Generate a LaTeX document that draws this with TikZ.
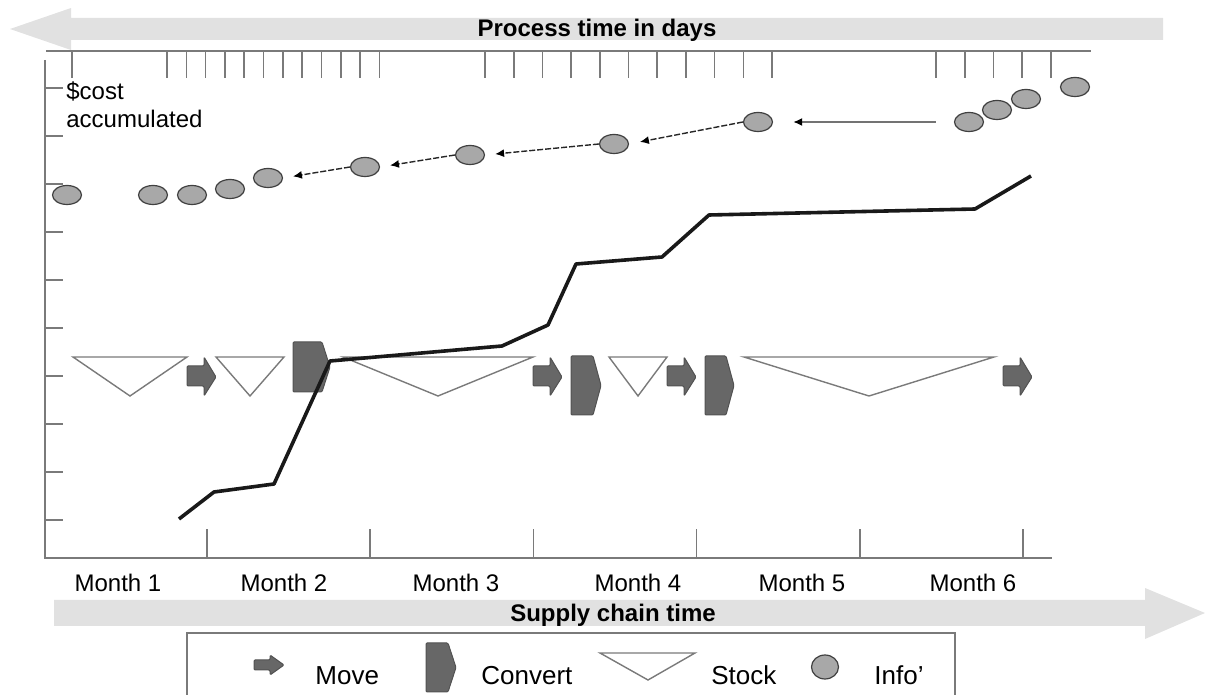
\documentclass[tikz,border=0pt]{standalone}
\usepackage{fontspec}
\setmainfont{Liberation Sans}
\usepackage{xcolor}
\usetikzlibrary{shapes.geometric,arrows.meta}

\definecolor{bandgray}{HTML}{E1E1E1}
\definecolor{axisgray}{HTML}{7A7A7A}
\definecolor{blockgray}{HTML}{676767}
\definecolor{infogray}{HTML}{A8A8A8}

\begin{document}
\begin{tikzpicture}[x=.5pt, y=-.5pt,
    lbl/.style={inner sep=0, font=\fontsize{12}{14}\selectfont},
    title/.style={inner sep=0, font=\fontsize{12}{14}\selectfont\bfseries},
    legendlbl/.style={inner sep=0, font=\fontsize{13}{15}\selectfont, anchor=base west},
    axis/.style={draw=axisgray, line width=1pt},
    tick/.style={draw=axisgray, line width=.8pt},
    block/.style={fill=blockgray, draw=blockgray!80!black, line width=.5pt, rounded corners=.6pt},
    stock/.style={draw=axisgray, fill=white, line width=.7pt},
    info/.style={ellipse, draw=black!75, fill=infogray, line width=.6pt, inner sep=0,
                 minimum width=14.5pt, minimum height=9.5pt},
    infolink/.style={draw=black!85, line width=.7pt, dash pattern=on 3pt off 1pt,
                     -{Latex[length=4.5pt,width=4pt,black]}},
    cost/.style={draw=black!90, line width=1.8pt, line join=round}]
    \useasboundingbox (0,0) rectangle (1207,695);

    % process time (top) and supply chain time (bottom) bands
    \fill[bandgray] (71,18) -- (1163,18) -- (1163,40) -- (71,40) -- (71,50) -- (10,29) -- (71,8) -- cycle;
    \node[title, anchor=base] (process) at (597,37) {Process time in days};
    \fill[bandgray] (54,600) -- (1145,600) -- (1145,588) -- (1205,613) -- (1145,639) -- (1145,626) -- (54,626) -- cycle;
    \node[title, anchor=base] (supply) at (613,622) {Supply chain time};

    % axes
    \draw[axis] (45,60) -- (45,558) -- (1052,558);
    \draw[axis] (46,51) -- (1091,51);

    % day ticks
    \draw[tick] (72,51) -- ++(0,27);
    \foreach \i in {0,...,11} \draw[tick] (167+19.3*\i,51) -- ++(0,27);
    \foreach \i in {0,...,10} \draw[tick] (485+28.7*\i,51) -- ++(0,27);
    \foreach \i in {0,...,4} \draw[tick] (936+28.75*\i,51) -- ++(0,27);

    % cost ticks and month ticks
    \foreach \i in {0,...,9} \draw[tick] (45,88+48*\i) -- ++(18,0);
    \foreach \i in {1,...,6} \draw[tick] (43.8+163.2*\i,558) -- ++(0,-29);

    % stock
    \foreach \a/\b in {73/187, 216/284, 343/533, 609/667, 744/994}
        \draw[stock] (\a,357) -- (\b,357) -- ({(\a+\b)/2},396) -- cycle;

    % move
    \foreach \x in {187,533,667,1003}
        \draw[block] (\x,366) -- ++(17,0) -- ++(0,-9) -- ++(12,20) -- ++(-12,19) -- ++(0,-10) -- ++(-17,0) -- cycle;

    % convert
    \foreach \a/\b/\t/\h in {293/330/342/50, 571/601/356/59, 705/734/356/59}
        \draw[block] (\a,\t) -- (\b-8,\t) -- (\b,\t+\h/2) -- (\b-8,\t+\h) -- (\a,\t+\h) -- cycle;

    % accumulated cost
    \draw[cost] (179,519) -- (214,492) -- (274,484) -- (330,361) -- (502,346) -- (548,325)
        -- (576,264) -- (662,257) -- (709,215) -- (975,209) -- (1031,176);

    % info
    \node[info] (info1) at (67,195) {};
    \node[info] (info2) at (153,195) {};
    \node[info] (info3) at (192,195) {};
    \node[info] (info4) at (230,189) {};
    \node[info] (info5) at (268,178) {};
    \node[info] (info6) at (365,167) {};
    \node[info] (info7) at (470,155) {};
    \node[info] (info8) at (614,144) {};
    \node[info] (info9) at (758,122) {};
    \node[info] (info10) at (969,122) {};
    \node[info] (info11) at (997,110) {};
    \node[info] (info12) at (1026,99) {};
    \node[info] (info13) at (1075,87) {};

    \draw[infolink, solid, draw=black!55, line width=1pt, shorten <=9pt, shorten >=10pt] (info10.west) -- (info9.east);
    \draw[infolink, shorten >=5.5pt] (info9.west) -- (info8.east);
    \draw[infolink, shorten >=5pt] (info8.west) -- (info7.east);
    \draw[infolink, shorten >=5pt] (info7.west) -- (info6.east);
    \draw[infolink, shorten >=5pt] (info6.west) -- (info5.east);

    % labels
    \node[lbl, anchor=base west] (cost) at (66,100) {\$cost};
    \node[lbl, anchor=base west] (accum) at (66,128) {accumulated};
    \foreach \x/\m in {118/1, 284/2, 456/3, 638/4, 802/5, 973/6}
        \node[lbl, anchor=base] (month\m) at (\x,592) {Month \m};

    % legend
    \draw[axis, line width=.8pt] (187,700) -- (187,633) -- (955,633) -- (955,700);
    \draw[block] (254,660) -- ++(16,0) -- ++(0,-5) -- ++(14,10) -- ++(-14,10) -- ++(0,-5) -- ++(-16,0) -- cycle;
    \node[legendlbl] (move) at (315,685) {Move};
    \draw[block] (426,643) -- (448,643) -- (456,667.5) -- (448,692) -- (426,692) -- cycle;
    \node[legendlbl] (convert) at (481,685) {Convert};
    \draw[stock] (600,653) -- (695,653) -- (648,680) -- cycle;
    \node[legendlbl] (stock) at (711,685) {Stock};
    \node[info, minimum width=13.5pt, minimum height=12pt] (legendinfo) at (825,667) {};
    \node[legendlbl] (infolbl) at (874,685) {Info'};
\end{tikzpicture}
\end{document}
